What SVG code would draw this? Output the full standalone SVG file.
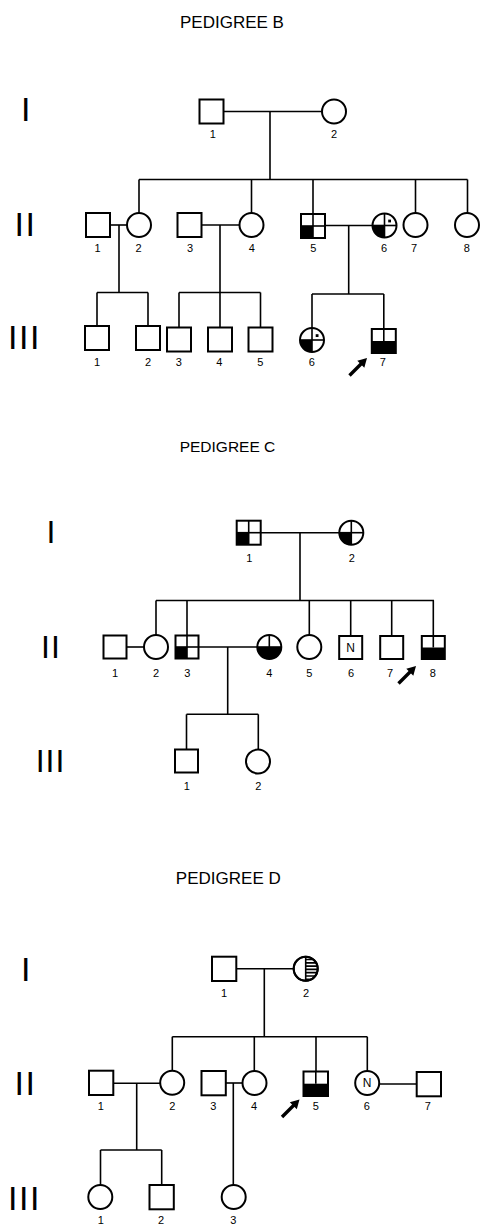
<svg xmlns="http://www.w3.org/2000/svg" width="480" height="1224" viewBox="0 0 480 1224">
<style>
.bg{fill:#fff}
.sq,.ci{fill:#fff;stroke:#000;stroke-width:2}
.ln{stroke:#000;stroke-width:1.6;fill:none}
.dv{stroke:#000;stroke-width:1.6;fill:none}
.fill{fill:#000;stroke:none}
.lbl{font-family:"Liberation Sans",Arial,sans-serif;font-size:11px;text-anchor:middle;fill:#000}
.gen{font-family:"Liberation Sans",Arial,sans-serif;font-size:34px;text-anchor:middle;fill:#000;letter-spacing:1.5px}
.gen2{font-family:"Liberation Sans",Arial,sans-serif;font-size:32px;text-anchor:middle;fill:#000;letter-spacing:1px}
.title{font-family:"Liberation Sans",Arial,sans-serif;font-size:17px;text-anchor:middle;fill:#000}
.n{font-family:"Liberation Sans",Arial,sans-serif;font-size:12px;text-anchor:middle;fill:#000}
</style>
<defs>
<g id="arrow">
<line x1="0" y1="0" x2="12" y2="-12" stroke="#000" stroke-width="3.4"/>
<polygon points="17.5,-17.5 14.8,-7.8 7.8,-14.8" fill="#000"/>
</g>
<clipPath id="cD2"><circle cx="305.7" cy="968.7" r="12"/></clipPath>
</defs>
<rect class="bg" x="0" y="0" width="480" height="1224"/>

<!-- ================= PEDIGREE B ================= -->
<text class="title" x="232" y="28">PEDIGREE B</text>
<text class="gen" x="26.5" y="120.7">I</text>
<text class="gen" x="25.5" y="235.7">II</text>
<text class="gen" x="24.5" y="349">III</text>

<g id="B-connectors">
<line class="ln" x1="223.5" y1="111.5" x2="322" y2="111.5"/>
<line class="ln" x1="270" y1="111.5" x2="270" y2="179.5"/>
<line class="ln" x1="139" y1="179.5" x2="467.5" y2="179.5"/>
<line class="ln" x1="139" y1="179.5" x2="139" y2="213"/>
<line class="ln" x1="251.5" y1="179.5" x2="251.5" y2="213"/>
<line class="ln" x1="313" y1="179.5" x2="313" y2="214"/>
<line class="ln" x1="415.5" y1="179.5" x2="415.5" y2="213"/>
<line class="ln" x1="467.5" y1="179.5" x2="467.5" y2="213"/>
<line class="ln" x1="110" y1="225" x2="127" y2="225"/>
<line class="ln" x1="119" y1="225" x2="119" y2="292.5"/>
<line class="ln" x1="97" y1="292.5" x2="148" y2="292.5"/>
<line class="ln" x1="97" y1="292.5" x2="97" y2="326"/>
<line class="ln" x1="148" y1="292.5" x2="148" y2="326"/>
<line class="ln" x1="201.5" y1="225" x2="239.5" y2="225"/>
<line class="ln" x1="220" y1="225" x2="220" y2="292.5"/>
<line class="ln" x1="179" y1="292.5" x2="260.5" y2="292.5"/>
<line class="ln" x1="179" y1="292.5" x2="179" y2="327.5"/>
<line class="ln" x1="220" y1="292.5" x2="220" y2="327.5"/>
<line class="ln" x1="260.5" y1="292.5" x2="260.5" y2="327.5"/>
<line class="ln" x1="325" y1="225.5" x2="372.5" y2="225.5"/>
<line class="ln" x1="348.7" y1="225.5" x2="348.7" y2="294"/>
<line class="ln" x1="312" y1="294" x2="383.8" y2="294"/>
<line class="ln" x1="312" y1="294" x2="312" y2="328"/>
<line class="ln" x1="383.8" y1="294" x2="383.8" y2="329"/>
</g>

<g id="B-I-1"><rect class="sq" x="199.5" y="99.5" width="24" height="24"/><text class="lbl" x="212.7" y="138">1</text></g>
<g id="B-I-2"><circle class="ci" cx="334" cy="111.5" r="12"/><text class="lbl" x="334" y="138">2</text></g>

<g id="B-II-1"><rect class="sq" x="86" y="213" width="24" height="24"/><text class="lbl" x="97.5" y="252">1</text></g>
<g id="B-II-2"><circle class="ci" cx="139" cy="225" r="12"/><text class="lbl" x="138.5" y="252">2</text></g>
<g id="B-II-3"><rect class="sq" x="177.5" y="213" width="24" height="24"/><text class="lbl" x="190" y="252">3</text></g>
<g id="B-II-4"><circle class="ci" cx="251.5" cy="225" r="12"/><text class="lbl" x="251.7" y="252">4</text></g>
<g id="B-II-5"><rect class="sq" x="301" y="214" width="24" height="24"/><rect class="fill" x="301" y="226" width="12" height="12"/><line class="dv" x1="313" y1="214" x2="313" y2="238"/><line class="dv" x1="301" y1="226" x2="325" y2="226"/><text class="lbl" x="313.3" y="252">5</text></g>
<g id="B-II-6"><circle class="ci" cx="384.5" cy="225.5" r="12"/><path class="fill" d="M384.5,225.5 L372.5,225.5 A12,12 0 0 0 384.5,237.5 Z"/><line class="dv" x1="384.5" y1="213.5" x2="384.5" y2="237.5"/><line class="dv" x1="372.5" y1="225.5" x2="396.5" y2="225.5"/><rect class="fill" x="388.2" y="219.6" width="2.8" height="2.8"/><text class="lbl" x="384" y="252">6</text></g>
<g id="B-II-7"><circle class="ci" cx="415.5" cy="225" r="12"/><text class="lbl" x="414" y="252">7</text></g>
<g id="B-II-8"><circle class="ci" cx="467" cy="225" r="12"/><text class="lbl" x="466.7" y="252">8</text></g>

<g id="B-III-1"><rect class="sq" x="85" y="326" width="24" height="24"/><text class="lbl" x="97" y="366">1</text></g>
<g id="B-III-2"><rect class="sq" x="136" y="326" width="24" height="24"/><text class="lbl" x="148" y="366">2</text></g>
<g id="B-III-3"><rect class="sq" x="167" y="327.5" width="24" height="24"/><text class="lbl" x="178.7" y="366">3</text></g>
<g id="B-III-4"><rect class="sq" x="208" y="327.5" width="24" height="24"/><text class="lbl" x="219.3" y="366">4</text></g>
<g id="B-III-5"><rect class="sq" x="248.5" y="327.5" width="24" height="24"/><text class="lbl" x="260.3" y="366">5</text></g>
<g id="B-III-6"><circle class="ci" cx="312" cy="340" r="12"/><path class="fill" d="M312,340 L300,340 A12,12 0 0 0 312,352 Z"/><line class="dv" x1="312" y1="328" x2="312" y2="352"/><line class="dv" x1="300" y1="340" x2="324" y2="340"/><rect class="fill" x="315.7" y="334.2" width="2.8" height="2.8"/><text class="lbl" x="311.7" y="366">6</text></g>
<g id="B-III-7"><rect class="sq" x="371.8" y="329" width="24" height="24"/><rect class="fill" x="371.8" y="341" width="24" height="12"/><line class="dv" x1="383.8" y1="329" x2="383.8" y2="341"/><text class="lbl" x="382.7" y="366">7</text></g>
<use href="#arrow" x="349.5" y="375.5"/>

<!-- ================= PEDIGREE C ================= -->
<text class="title" x="227.5" y="451.5" style="font-size:15.5px">PEDIGREE C</text>
<text class="gen2" x="51.5" y="543.3">I</text>
<text class="gen2" x="51" y="658.3">II</text>
<text class="gen2" x="50.5" y="772">III</text>

<g id="C-connectors">
<line class="ln" x1="260.7" y1="532.7" x2="339.3" y2="532.7"/>
<line class="ln" x1="300" y1="532.7" x2="300" y2="600.5"/>
<line class="ln" x1="156" y1="600.5" x2="434" y2="600.5"/>
<line class="ln" x1="156" y1="600.5" x2="156" y2="635"/>
<line class="ln" x1="187" y1="600.5" x2="187" y2="635.5"/>
<line class="ln" x1="309.3" y1="600.5" x2="309.3" y2="635"/>
<line class="ln" x1="350.7" y1="600.5" x2="350.7" y2="636"/>
<line class="ln" x1="391.7" y1="600.5" x2="391.7" y2="636"/>
<line class="ln" x1="433.3" y1="600.5" x2="433.3" y2="636"/>
<line class="ln" x1="126.5" y1="647" x2="144" y2="647"/>
<line class="ln" x1="198.5" y1="647" x2="257.3" y2="647"/>
<line class="ln" x1="227.7" y1="647" x2="227.7" y2="714.3"/>
<line class="ln" x1="186.5" y1="714.3" x2="258.3" y2="714.3"/>
<line class="ln" x1="186.5" y1="714.3" x2="186.5" y2="749.5"/>
<line class="ln" x1="258.3" y1="714.3" x2="258.3" y2="749.5"/>
</g>

<g id="C-I-1"><rect class="sq" x="236.7" y="520.7" width="24" height="24"/><rect class="fill" x="236.7" y="532.7" width="12" height="12"/><line class="dv" x1="248.7" y1="520.7" x2="248.7" y2="544.7"/><line class="dv" x1="236.7" y1="532.7" x2="260.7" y2="532.7"/><text class="lbl" x="249.3" y="561.7">1</text></g>
<g id="C-I-2"><circle class="ci" cx="351.3" cy="532.7" r="12"/><path class="fill" d="M351.3,532.7 L339.3,532.7 A12,12 0 0 0 351.3,544.7 Z"/><line class="dv" x1="351.3" y1="520.7" x2="351.3" y2="544.7"/><line class="dv" x1="339.3" y1="532.7" x2="363.3" y2="532.7"/><text class="lbl" x="351.7" y="561.7">2</text></g>

<g id="C-II-1"><rect class="sq" x="103.5" y="635.5" width="23" height="23"/><text class="lbl" x="115" y="677">1</text></g>
<g id="C-II-2"><circle class="ci" cx="156" cy="647" r="12"/><text class="lbl" x="156" y="677">2</text></g>
<g id="C-II-3"><rect class="sq" x="175.5" y="635.5" width="23" height="23"/><rect class="fill" x="175.5" y="647" width="11.5" height="11.5"/><line class="dv" x1="187" y1="635.5" x2="187" y2="658.5"/><line class="dv" x1="175.5" y1="647" x2="198.5" y2="647"/><text class="lbl" x="187.3" y="677">3</text></g>
<g id="C-II-4"><circle class="ci" cx="269.3" cy="647" r="12"/><path class="fill" d="M257.3,647 A12,12 0 0 0 281.3,647 Z"/><line class="dv" x1="269.3" y1="635" x2="269.3" y2="647"/><line class="dv" x1="257.3" y1="647" x2="281.3" y2="647"/><text class="lbl" x="269.3" y="677">4</text></g>
<g id="C-II-5"><circle class="ci" cx="309.3" cy="647" r="12"/><text class="lbl" x="309.3" y="677">5</text></g>
<g id="C-II-6"><rect class="sq" x="339.2" y="636" width="23" height="23"/><text class="n" x="350.7" y="652">N</text><text class="lbl" x="351" y="677">6</text></g>
<g id="C-II-7"><rect class="sq" x="380.2" y="636" width="23" height="23"/><text class="lbl" x="390" y="677">7</text></g>
<g id="C-II-8"><rect class="sq" x="421.8" y="636" width="23" height="23"/><rect class="fill" x="421.8" y="647.5" width="23" height="11.5"/><line class="dv" x1="433.3" y1="636" x2="433.3" y2="647.5"/><text class="lbl" x="432.7" y="677">8</text></g>
<use href="#arrow" x="398.5" y="683.5"/>

<g id="C-III-1"><rect class="sq" x="175" y="749.5" width="23" height="23"/><text class="lbl" x="186.7" y="790">1</text></g>
<g id="C-III-2"><circle class="ci" cx="258" cy="761.5" r="12"/><text class="lbl" x="258.3" y="790">2</text></g>

<!-- ================= PEDIGREE D ================= -->
<text class="title" x="228.3" y="884.3">PEDIGREE D</text>
<text class="gen" x="26.5" y="980.5">I</text>
<text class="gen" x="25.5" y="1095">II</text>
<text class="gen" x="24.5" y="1210">III</text>

<g id="D-connectors">
<line class="ln" x1="236.3" y1="968.7" x2="293.7" y2="968.7"/>
<line class="ln" x1="264.3" y1="968.7" x2="264.3" y2="1036.7"/>
<line class="ln" x1="172.3" y1="1036.7" x2="367.3" y2="1036.7"/>
<line class="ln" x1="172.3" y1="1036.7" x2="172.3" y2="1070.7"/>
<line class="ln" x1="254.3" y1="1036.7" x2="254.3" y2="1071"/>
<line class="ln" x1="316" y1="1036.7" x2="316" y2="1071.5"/>
<line class="ln" x1="367.3" y1="1036.7" x2="367.3" y2="1071"/>
<line class="ln" x1="113.3" y1="1083.3" x2="160" y2="1083.3"/>
<line class="ln" x1="136.7" y1="1083.3" x2="136.7" y2="1150"/>
<line class="ln" x1="100.5" y1="1150" x2="161.7" y2="1150"/>
<line class="ln" x1="100.5" y1="1150" x2="100.5" y2="1185"/>
<line class="ln" x1="161.7" y1="1150" x2="161.7" y2="1185"/>
<line class="ln" x1="225.7" y1="1083" x2="242.5" y2="1083"/>
<line class="ln" x1="233.3" y1="1083" x2="233.3" y2="1185"/>
<line class="ln" x1="379.2" y1="1084" x2="416.7" y2="1084"/>
</g>

<g id="D-I-1"><rect class="sq" x="212" y="956.7" width="24.3" height="24.3"/><text class="lbl" x="224" y="996.5">1</text></g>
<g id="D-I-2"><circle class="ci" cx="305.7" cy="968.7" r="12"/>
<g clip-path="url(#cD2)" stroke="#000" stroke-width="1.7">
<line x1="305.7" y1="959.5" x2="318" y2="959.5"/>
<line x1="305.7" y1="962.8" x2="318" y2="962.8"/>
<line x1="305.7" y1="966.1" x2="318" y2="966.1"/>
<line x1="305.7" y1="969.4" x2="318" y2="969.4"/>
<line x1="305.7" y1="972.7" x2="318" y2="972.7"/>
<line x1="305.7" y1="976" x2="318" y2="976"/>
<line x1="305.7" y1="979.3" x2="318" y2="979.3"/>
</g>
<line class="dv" x1="305.7" y1="956.7" x2="305.7" y2="980.7"/>
<circle cx="305.7" cy="968.7" r="12" fill="none" stroke="#000" stroke-width="2"/>
<text class="lbl" x="306" y="996.5">2</text></g>

<g id="D-II-1"><rect class="sq" x="89" y="1070.7" width="24.3" height="24.3"/><text class="lbl" x="100.7" y="1110">1</text></g>
<g id="D-II-2"><circle class="ci" cx="172.2" cy="1082.7" r="12"/><text class="lbl" x="172.3" y="1110">2</text></g>
<g id="D-II-3"><rect class="sq" x="201.5" y="1071" width="24.3" height="24.3"/><text class="lbl" x="213.3" y="1110">3</text></g>
<g id="D-II-4"><circle class="ci" cx="254.5" cy="1083" r="12"/><text class="lbl" x="254" y="1110">4</text></g>
<g id="D-II-5"><rect class="sq" x="303.5" y="1071.5" width="24.5" height="24.5"/><rect class="fill" x="303.5" y="1083.7" width="24.5" height="12.3"/><line class="dv" x1="315.8" y1="1071.5" x2="315.8" y2="1083.7"/><text class="lbl" x="315.7" y="1110">5</text></g>
<g id="D-II-6"><circle class="ci" cx="367.2" cy="1083" r="12"/><text class="n" x="367.2" y="1087.3">N</text><text class="lbl" x="366.7" y="1110">6</text></g>
<g id="D-II-7"><rect class="sq" x="416.7" y="1072" width="24.3" height="24.3"/><text class="lbl" x="427.7" y="1110">7</text></g>
<use href="#arrow" x="282" y="1117"/>

<g id="D-III-1"><circle class="ci" cx="100.3" cy="1197" r="12"/><text class="lbl" x="100.7" y="1224">1</text></g>
<g id="D-III-2"><rect class="sq" x="149.5" y="1185" width="24.3" height="24.3"/><text class="lbl" x="161" y="1224">2</text></g>
<g id="D-III-3"><circle class="ci" cx="233.7" cy="1197" r="12"/><text class="lbl" x="233.3" y="1224">3</text></g>
</svg>
